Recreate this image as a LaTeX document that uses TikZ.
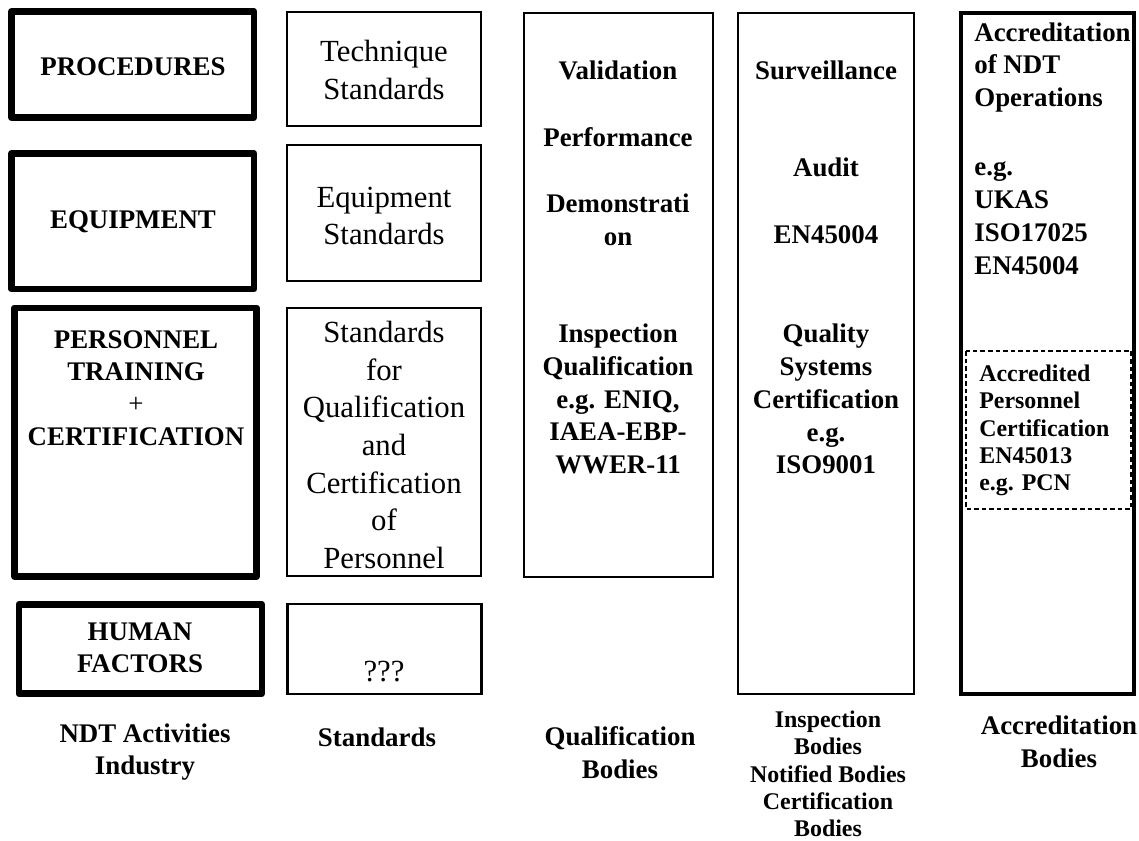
\documentclass[tikz,border=0pt]{standalone}
\usepackage{fontspec}
\setmainfont{Liberation Serif}
\tikzset{
  industry/.style={line width=3.8pt, line join=round},
  stdbox/.style={line width=1.5pt},
  colbox/.style={line width=1.5pt},
  subbox/.style={line width=1.1pt, dash pattern=on 2.6pt off 1.7pt},
  caps/.style={inner sep=0pt, font=\fontsize{15.3}{18.4}\selectfont\bfseries, align=center},
  plainlbl/.style={inner sep=0pt, font=\fontsize{17.5}{21.4}\selectfont, align=center},
  lbl/.style={inner sep=0pt, font=\fontsize{15.3}{18.7}\selectfont\bfseries, align=center},
  smalllbl/.style={inner sep=0pt, font=\fontsize{13.6}{15.6}\selectfont\bfseries, align=center},
}
\begin{document}
\begin{tikzpicture}[x=0.02cm,y=-0.02cm]
\useasboundingbox (0,0) rectangle (1139,841);
\draw[industry] (11.5,11.5) rectangle (254,117.5);
\draw[industry] (11.5,153.5) rectangle (254,289);
\draw[industry] (14.5,308) rectangle (256.5,576.5);
\draw[industry] (19,604.5) rectangle (262,693.5);
\node[caps] (proc) at (133,67) {PROCEDURES};
\node[caps] (equip) at (133,222) {EQUIPMENT};
\node[caps] (pers) at (136,388) {PERSONNEL\\TRAINING\\{\mdseries +}\\CERTIFICATION};
\node[caps] (human) at (140,648) {HUMAN\\FACTORS};
\draw[stdbox] (287,12) rectangle (481,126);
\draw[stdbox] (287,145) rectangle (481,281);
\draw[stdbox] (287,308) rectangle (481,576);
\draw[stdbox] (287.5,604) rectangle (481.5,694);
\node[plainlbl] (tech) at (384,70) {Technique\\Standards};
\node[plainlbl] (equipstd) at (384,216) {Equipment\\Standards};
\node[plainlbl] (persstd) at (384,445) {Standards\\for\\Qualification\\and\\Certification\\of\\Personnel};
\node[plainlbl] (humanstd) at (384,672) {???};
\draw[colbox] (524,13) rectangle (713,577);
\draw[colbox] (738,13) rectangle (914,694);
\draw[colbox, line width=1.8pt] (961,13) rectangle (1134,694);
\draw[subbox] (966,351) rectangle (1131,509);
\node[lbl] (valid) at (618,70) {Validation};
\node[lbl] (perf) at (618,137) {Performance};
\node[lbl] (demo) at (618,220) {Demonstrati\\on};
\node[lbl] (inspq) at (618,399) {Inspection\\Qualification\\e.g. ENIQ,\\IAEA-EBP-\\WWER-11};
\node[lbl] (surv) at (826,70) {Surveillance};
\node[lbl] (audit) at (826,167) {Audit};
\node[lbl] (survstd) at (826,235) {EN45004};
\node[lbl] (qsys) at (826,399) {Quality\\Systems\\Certification\\e.g.\\ISO9001};
\node[lbl, align=left, anchor=west] (accrop) at (974,67.5) {Accreditation\\of NDT\\Operations};
\node[lbl, align=left, anchor=west] (ukas) at (974,218.5) {e.g.\\UKAS\\ISO17025\\EN45004};
\node[smalllbl, align=left, anchor=west] (pcn) at (979,430.5) {Accredited\\Personnel\\Certification\\EN45013\\e.g. PCN};
\node[lbl] (ndt) at (145,752) {NDT Activities\\Industry};
\node[lbl] (stdlbl) at (377,737) {Standards};
\node[lbl] (qual) at (620,753) {Qualification\\Bodies};
\node[smalllbl] (insp) at (828,774) {Inspection\\Bodies\\Notified Bodies\\Certification\\Bodies};
\node[lbl] (accr) at (1059,742) {Accreditation\\Bodies};
\end{tikzpicture}
\end{document}
